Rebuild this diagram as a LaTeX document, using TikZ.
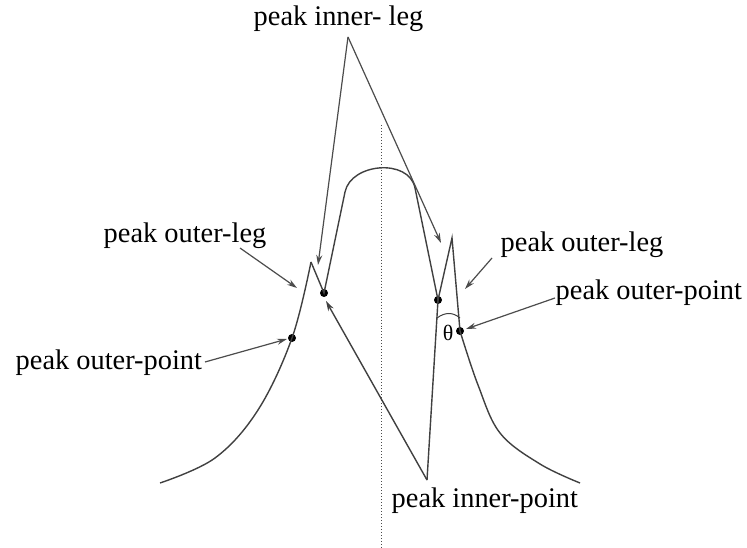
\documentclass[tikz,border=0pt]{standalone}
\usepackage{fontspec}
\setmainfont{Liberation Serif}
\usepackage{xcolor}
\usetikzlibrary{arrows.meta}
\begin{document}
\begin{tikzpicture}[>={Stealth[length=10bp, width=6bp]}, x=1bp, y=-1bp, line width=1.4bp,
    lbl/.style={font=\fontsize{28.5}{34}\selectfont, inner sep=0pt, anchor=base west},
    dot/.style={circle, fill=black, inner sep=0pt, minimum size=8bp},
    pointer/.style={->, line width=1.2bp, black!70}]
    \useasboundingbox (0,0) rectangle (747,548);

    % labels
    \node[lbl] (innerleg) at (253,26) {peak inner- leg};
    \node[lbl] (outerlegL) at (103,243) {peak outer-leg};
    \node[lbl] (outerptL) at (15,369) {peak outer-point};
    \node[lbl] (outerlegR) at (500,252) {peak outer-leg};
    \node[lbl] (outerptR) at (555,299) {peak outer-point};
    \node[lbl] (innerpt) at (391,507) {peak inner-point};
    \node[font=\fontsize{22}{26}\selectfont, inner sep=0pt] (theta) at (448,333) {θ};

    % points on the profile
    \node[dot] (ptL) at (292,338) {};
    \node[dot] (valL) at (324,293) {};
    \node[dot] (valR) at (438,300) {};
    \node[dot] (ptR) at (460,331) {};
    \coordinate (tipL) at (311,262);
    \coordinate (tipR) at (452,238);
    \coordinate (bottom) at (427,480);
    \coordinate (apex) at (348,37);

    % profile
    \draw[black!75] plot[smooth, tension=0.6] coordinates {(160,483) (215,458) (258,410) (ptL) (tipL)};
    \draw[black!75] (tipL) -- (valL.center) -- (345,192)
        .. controls (351,163) and (409,158) .. (415,188) -- (valR.center)
        -- (tipR) -- (ptR.center);
    \draw[black!75] plot[smooth, tension=0.6] coordinates {(ptR) (478,385) (500,433) (540,464) (580,483)};

    % inner V and angle
    \draw[->, black!75] (bottom) -- (326,301);
    \draw[black!75] (bottom) -- (valR.center);
    \draw[black!75, line width=1bp] (437,318) .. controls (445,312) and (453,312) .. (460,318);

    % axis
    \draw[dotted, line width=1bp, black!70] (381,125) -- (381,548);

    % pointers
    \draw[pointer] (apex) -- (318,265);
    \draw[pointer] (apex) -- (441,243);
    \draw[pointer] (240,248) -- (297,288);
    \draw[pointer] (205,362) -- (287,339);
    \draw[pointer] (492,258) -- (465,289);
    \draw[pointer] (555,298) -- (466,329);
\end{tikzpicture}
\end{document}
